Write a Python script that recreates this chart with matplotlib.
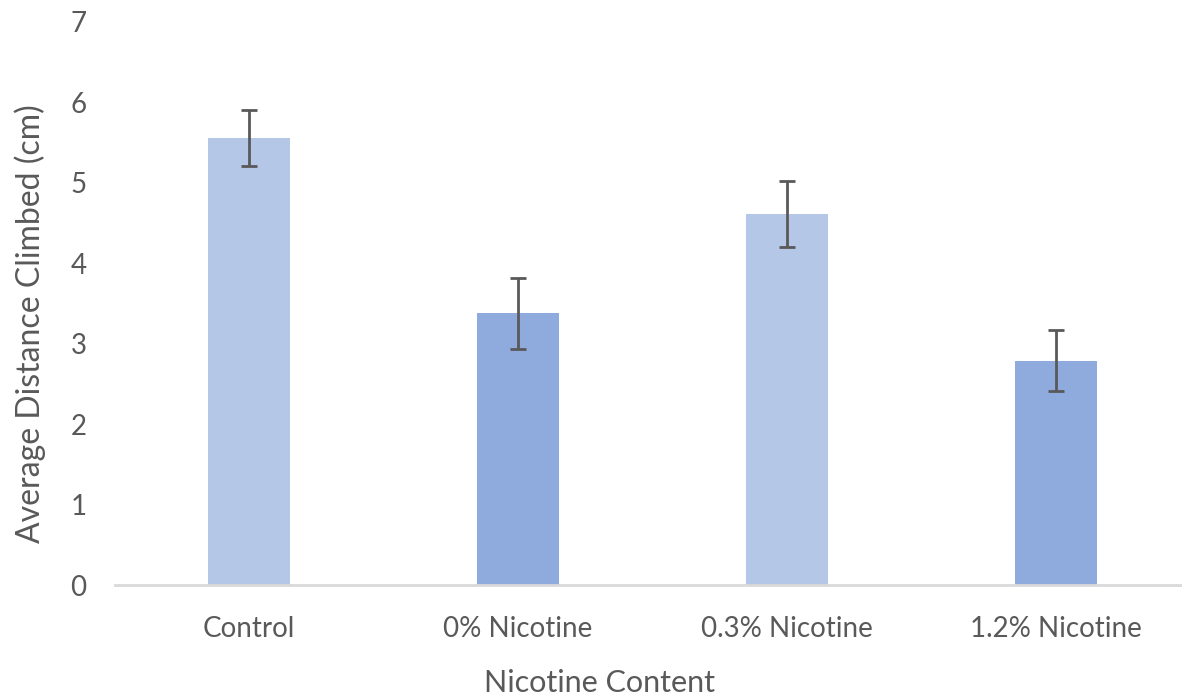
import numpy as np
import matplotlib
matplotlib.use("Agg")
import matplotlib.pyplot as plt

# values
categories = ["Control", "0% Nicotine", "0.3% Nicotine", "1.2% Nicotine"]
means = [5.56, 3.38, 4.61, 2.79]
errors = [0.35, 0.44, 0.41, 0.375]
colors = ["#B4C7E7", "#8FAADC", "#B4C7E7", "#8FAADC"]

text_color = "#595959"
plt.rcParams["font.family"] = ["Lato", "DejaVu Sans"]

fig = plt.figure(figsize=(11.82, 6.99), dpi=100)
# axes run a little past the right edge, like the cropped original
ax = fig.add_axes([114.5 / 1182, 114 / 699, 1076 / 1182, 563 / 699])

x = np.arange(len(categories))
ax.bar(x, means, width=0.305, color=colors, zorder=2)
ax.errorbar(x, means, yerr=errors, fmt="none", ecolor="#595959",
            elinewidth=2, capsize=5.5, capthick=2, zorder=3)

ax.set_xlim(-0.5, 3.5)
ax.set_ylim(0, 7)
ax.set_yticks(range(0, 8))
ax.set_xticks(x)
ax.set_xticklabels(categories)

for side in ["top", "right", "left"]:
    ax.spines[side].set_visible(False)
ax.spines["bottom"].set_color("#D9D9D9")
ax.spines["bottom"].set_linewidth(2)

ax.tick_params(axis="both", length=0, labelsize=20, labelcolor=text_color)
ax.tick_params(axis="y", pad=20)
ax.tick_params(axis="x", pad=22)

ax.set_xlabel("Nicotine Content", fontsize=22, color=text_color)
ax.set_ylabel("Average Distance Climbed (cm)", fontsize=23, color=text_color)
ax.xaxis.set_label_coords(0.451, -0.150)
ax.yaxis.set_label_coords(-0.064, 0.464)

fig.savefig("out.png", dpi=100)
